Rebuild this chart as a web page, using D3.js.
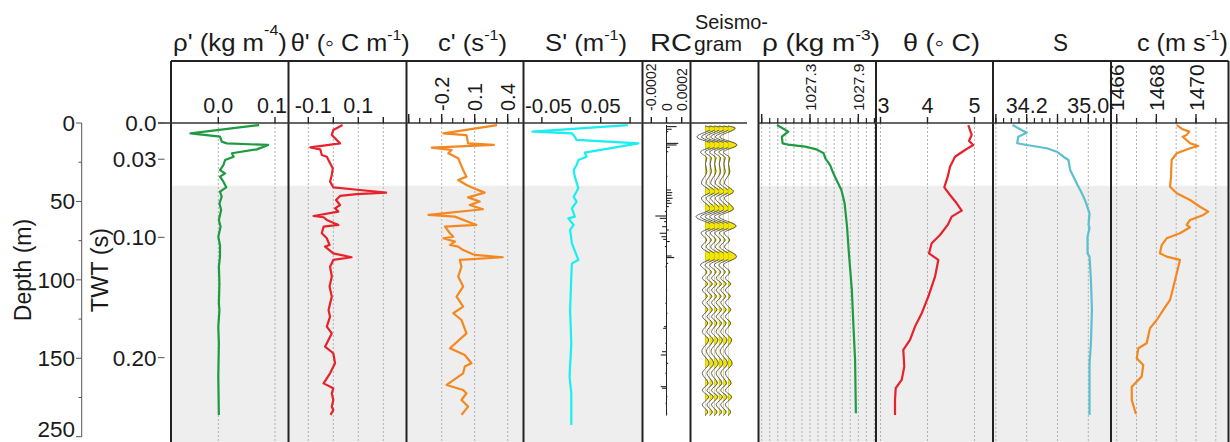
<!DOCTYPE html>
<html><head><meta charset="utf-8">
<script src="https://cdn.jsdelivr.net/npm/d3@7"></script>
<style>
body{margin:0;background:#fff}
text{font-family:"Liberation Sans",Arial,Helvetica,sans-serif;fill:#1a1a1a}
</style>
</head><body>
<svg id="chart" width="1230" height="442"></svg>
<script>
// ---------------- DATA ----------------
const depthTicks=[0,50,100,150,200];
const depthTickLabels=["0","50","100","150","250"];
const depthMinorTicks=[25,75,125,175];
const twtTicks=[0,0.03,0.10,0.20];
const twtTickLabels=["0.0","0.03","0.10","0.20"];
const twtDepths=[0,23.1,72.9,149.6];   // time-depth table (m)
const shadeTopDepth=40;

const headerMain=["ρ' (kg m","θ' (\u25E6 C m","c' (s","S' (m","RC","Seismo-","ρ (kg m","θ (\u25E6 C)","S","c (m s"];
const headerSup =["-4","-1","-1","-1","","","-3","","","-1"];
const headerTail=[")",")",")",")","","",")","","",")"];
const seismoSecondLine="gram";

const rhoPTicks=[0,0.1], rhoPLabels=["0.0","0.1"];
const thetaPTicks=[-0.1,0,0.1,0.2], thetaPLabels=["-0.1","","0.1",""];
const cPMajor=[-0.5,-0.2,0.1,0.4], cPLabels=["","-0.2","0.1","0.4"];
const cPMinor=[-0.5,-0.4,-0.3,-0.2,-0.1,0,0.1,0.2,0.3,0.4,0.5];
const cPGrid=[-0.2,0.1,0.4];
const sPTicks=[-0.05,0,0.05,0.1], sPLabels=["-0.05","","0.05",""];
const rcTicks=[-0.0002,0,0.0002], rcLabels=["-0.0002","0","0.0002"];
const rhoMajor=[1026.7,1027.3,1027.9], rhoLabels=["","1027.3","1027.9"];
const rhoMinor=[1026.7,1026.8,1026.9,1027.0,1027.1,1027.2,1027.3,1027.4,1027.5,1027.6,1027.7,1027.8,1027.9,1028.0,1028.1];
const thetaTicks=[3,4,5], thetaLabels=["3","4","5"];
const sMajor=[33.8,34.2,34.6,35.0], sLabels=["","34.2","","35.0"];
const sMinor=[33.8,33.9,34.0,34.1,34.2,34.3,34.4,34.5,34.6,34.7,34.8,34.9,35.0,35.1,35.2];
const cMajor=[1466,1468,1470], cLabels=["1466","1468","1470"];
const cMinor=[1466,1467,1468,1469,1470,1471];

// series: [depth (m), value]
const rhoPrime=[[1.3,0.072],[6.6,-0.049],[8.7,0.003],[11.9,0.006],[13.0,0.015],[14.0,0.088],[16.8,0.068],[19.3,0.024],[21.5,0.027],[23.6,0.012],[26.8,0.009],[30.0,0.003],[32.1,0.012],[34.2,0.003],[37.4,0.009],[41.0,0.014],[43.8,0.003],[47.0,0.006],[51.2,0.002],[55.5,0.005],[61.8,0.001],[66.1,0.004],[72.5,0.0],[78.0,0.003],[85.2,0.003],[91.6,0.001],[102.2,0.002],[115.0,0.001],[119.2,0.002],[129.8,0.0],[140.5,0.001],[161.7,0.0],[186.1,0.001]];
const thetaPrime=[[1.3,0.037],[4.5,0.0],[7.7,-0.006],[13.0,0.027],[15.5,-0.092],[16.8,-0.052],[20.4,-0.046],[21.5,-0.026],[25.7,-0.013],[28.9,-0.002],[33.1,-0.006],[37.4,-0.013],[41.0,0.0],[42.7,0.106],[44.4,0.211],[45.3,0.093],[46.5,0.027],[49.1,0.011],[52.3,0.027],[54.4,0.007],[56.5,0.020],[59.3,-0.079],[60.1,-0.039],[61.8,-0.026],[65.0,0.020],[66.1,-0.039],[70.3,-0.046],[73.5,-0.026],[77.8,-0.015],[78.8,-0.033],[83.1,0.0],[85.6,0.073],[87.3,0.0],[91.6,-0.013],[97.9,-0.006],[104.3,-0.015],[110.7,-0.006],[119.2,-0.019],[123.5,-0.013],[129.8,-0.026],[134.1,-0.006],[142.6,-0.033],[146.8,0.0],[153.2,0.007],[159.6,-0.013],[166.0,-0.039],[169.1,0.0],[172.3,-0.006],[176.6,0.0],[180.8,-0.006],[183.0,0.0],[186.1,-0.011]];
const cPrime=[[1.3,0.304],[6.6,-0.185],[7.7,0.025],[13.0,0.040],[14.0,0.274],[15.7,-0.290],[16.8,-0.155],[17.2,-0.110],[19.3,-0.140],[22.5,-0.050],[30.0,-0.005],[34.2,0.025],[36.3,-0.050],[39.5,0.025],[41.0,0.070],[44.4,0.190],[47.4,0.040],[50.1,0.145],[52.3,0.055],[55.0,0.175],[58.6,-0.320],[59.7,-0.080],[65.0,0.115],[66.1,-0.170],[70.3,-0.125],[72.5,-0.095],[73.5,-0.185],[75.6,-0.080],[77.8,-0.125],[78.8,-0.050],[81.0,-0.005],[84.1,0.100],[85.6,0.355],[87.3,-0.035],[91.6,-0.020],[97.9,-0.050],[104.3,-0.005],[110.7,-0.065],[117.1,-0.005],[121.3,-0.095],[125.6,-0.020],[134.1,0.025],[143.6,-0.125],[147.9,0.010],[153.2,0.070],[155.3,0.010],[159.6,-0.005],[167.0,-0.155],[170.2,-0.005],[172.3,0.025],[176.6,-0.020],[180.8,0.040],[186.1,-0.020]];
const sPrime=[[1.3,0.096],[5.5,-0.066],[6.6,0.001],[8.7,0.006],[10.8,0.009],[13.0,0.114],[15.5,0.075],[18.9,0.023],[21.5,0.026],[23.6,0.012],[26.8,0.009],[30.0,0.004],[34.2,0.006],[41.6,0.012],[47.0,0.004],[50.1,0.009],[54.4,0.001],[59.7,0.006],[60.8,-0.005],[65.0,0.004],[68.2,-0.002],[76.7,0.001],[87.3,0.012],[89.5,0.001],[97.9,0.0],[119.2,-0.002],[140.5,0.0],[161.7,-0.003],[172.3,0.0],[192.5,0.0]];
const rcSpikes=[[2.3,0.000133],[4.0,0.000067],[5.5,0.000022],[13.0,0.000155],[14.0,0.000133],[15.5,0.000044],[18.3,0.000022],[26.0,0.000009],[34.0,0.000013],[42.7,0.000058],[44.4,0.000076],[46.1,0.000067],[48.0,0.00008],[49.5,0.000044],[51.2,0.000067],[53.3,0.000031],[56.5,-0.000022],[59.3,-0.000147],[60.8,-0.000089],[62.9,-0.000031],[66.1,-0.000058],[68.2,0.000031],[70.3,-0.000089],[72.5,-0.000067],[74.2,-0.000044],[75.6,0.000044],[78.8,-0.000022],[84.8,0.000067],[85.8,0.000102],[89.5,0.000022],[91.6,-0.000013],[106.5,0.000009],[115.0,-0.000013],[121.3,0.000013],[129.8,-0.000031],[130.9,-0.000044],[140.5,-0.000013],[145.8,-0.000058],[147.9,-0.000076],[153.2,0.000022],[159.6,-0.000013],[168.1,-0.000076],[169.1,-0.000058],[174.5,0.000013],[178.7,-0.000013],[185.1,0.000009]];
const seismoTrace=[[1.9,0],[3.2,0.8],[8.9,-0.9],[14.0,1.0],[18.5,-0.5],[22.3,0.2],[26.0,0.05],[31.0,0.2],[38.2,-0.4],[43.8,0.6],[47.8,-0.4],[54.8,0.6],[59.7,-1.0],[65.7,0.9],[70.1,-0.45],[74.6,0.2],[78.9,-0.4],[85.2,0.95],[90.5,-0.5],[95.0,0.2],[99.0,-0.3],[102.5,0.3],[106.5,-0.3],[110.5,0.25],[114.5,-0.3],[119.0,0.3],[123.5,-0.3],[127.5,0.3],[133.0,-0.3],[138.3,0.4],[145.5,-0.35],[153.2,0.45],[159.6,-0.3],[165.9,0.35],[170.4,-0.3],[174.6,0.4],[179.7,-0.3],[184.2,0.3],[186.5,0]];
const seismoTraceIndex=[0,1,2,3,4,5];
const rho=[[1.3,1026.89],[5.5,1027.03],[8.7,1026.95],[13.0,1026.96],[13.8,1027.03],[15.1,1027.24],[16.8,1027.38],[19.3,1027.47],[22.5,1027.49],[26.8,1027.55],[32.1,1027.59],[37.4,1027.64],[42.7,1027.69],[51.2,1027.73],[66.1,1027.76],[81.0,1027.78],[106.5,1027.82],[129.8,1027.84],[151.1,1027.86],[185.1,1027.87]];
const theta=[[1.3,4.868],[7.6,4.940],[11.5,4.883],[14.0,4.974],[17.2,4.798],[21.5,4.585],[27.9,4.479],[34.2,4.430],[41.0,4.357],[45.9,4.479],[51.2,4.621],[55.9,4.728],[59.7,4.515],[65.0,4.430],[71.4,4.266],[76.7,4.089],[83.1,4.032],[87.3,4.230],[98.0,4.160],[110.7,4.017],[121.3,3.877],[129.8,3.734],[138.3,3.628],[144.7,3.485],[155.3,3.506],[163.8,3.451],[169.1,3.323],[176.6,3.309],[186.1,3.309]];
const salinity=[[1.3,34.017],[6.2,34.20],[8.7,34.09],[12.9,34.077],[14.0,34.20],[16.1,34.461],[18.3,34.591],[21.5,34.677],[23.6,34.742],[30.0,34.765],[34.2,34.808],[39.5,34.86],[42.7,34.895],[47.0,34.938],[51.2,34.973],[57.6,35.016],[65.0,35.003],[66.9,35.016],[72.5,34.99],[83.1,34.99],[85.2,35.016],[100.1,35.034],[119.2,35.047],[140.4,35.034],[153.2,35.016],[186.1,35.016]];
const soundSpeed=[[1.3,1469.03],[4.0,1469.33],[5.5,1469.66],[7.6,1469.53],[8.7,1469.33],[12.9,1469.70],[14.7,1470.11],[16.1,1469.70],[19.3,1469.03],[23.6,1468.77],[34.2,1468.74],[40.6,1468.69],[44.8,1469.03],[49.1,1469.70],[53.4,1470.20],[56.5,1470.62],[58.6,1470.37],[61.8,1469.70],[65.0,1469.53],[66.5,1469.70],[70.3,1469.19],[73.5,1468.52],[77.8,1468.27],[83.1,1468.18],[85.2,1468.52],[87.3,1469.19],[95.8,1469.03],[106.5,1468.82],[112.8,1468.69],[119.2,1468.35],[125.6,1468.02],[130.9,1467.68],[140.4,1467.51],[143.6,1467.09],[150.0,1467.01],[154.3,1467.34],[161.7,1467.26],[168.1,1466.76],[176.6,1466.76],[185.5,1466.97]];

// ---------------- LAYOUT ----------------
const svg=d3.select("#chart");
const AX=123, TOP=61, BOT=442;
const edges=[171,288.5,406.5,523.5,642.5,690.5,758.5,876,993,1111,1228.5];
const y=d3.scaleLinear().domain([0,200]).range([123,436.7]);
const twtY=d3.scaleLinear().domain(twtTicks).range(twtDepths.map(d=>y(d)));

const panels=[
 {dom:[0,0.1],rng:[218.3,275],major:rhoPTicks,labels:rhoPLabels,minor:[],grid:rhoPTicks,rot:false,fs:21.5,data:rhoPrime,color:"#1e9a40",shade:true,mlen:6},
 {dom:[0,0.1],rng:[333.3,358.3],major:thetaPTicks,labels:thetaPLabels,minor:[],grid:thetaPTicks,rot:false,fs:21.5,data:thetaPrime,color:"#e8222b",shade:true,mlen:6},
 {dom:[-0.2,0.4],rng:[441.7,507.7],major:cPMajor,labels:cPLabels,minor:cPMinor,grid:cPGrid,rot:true,fs:20,data:cPrime,color:"#f5871f",shade:true,mlen:9},
 {dom:[0,0.05],rng:[571.3,600.7],major:sPTicks,labels:sPLabels,minor:[],grid:[],rot:false,fs:20.5,data:sPrime,color:"#19eef0",shade:true,mlen:6},
 {dom:[0,0.0002],rng:[666.5,681.7],major:rcTicks,labels:rcLabels,minor:[],grid:[],rot:true,fs:14,data:null,shade:false,mlen:6},
 {seismo:true,shade:false},
 {dom:[1027.3,1027.9],rng:[810,858.3],major:rhoMajor,labels:rhoLabels,minor:rhoMinor,grid:rhoMinor,rot:true,fs:15.5,data:rho,color:"#1e9a40",shade:true,mlen:9},
 {dom:[3,5],rng:[880.5,974.5],major:thetaTicks,labels:thetaLabels,minor:[],grid:thetaTicks,rot:false,fs:21.5,data:theta,color:"#e8222b",shade:true,mlen:6},
 {dom:[34.2,35.0],rng:[1026.7,1088.3],major:sMajor,labels:sLabels,minor:sMinor,grid:sMajor,rot:false,fs:21.5,data:salinity,color:"#5cbfd0",shade:true,mlen:9},
 {dom:[1466,1470],rng:[1116.7,1196],major:cMajor,labels:cLabels,minor:cMinor,grid:cMinor,rot:true,fs:21,data:soundSpeed,color:"#f5871f",shade:true,mlen:9}
];

// shading
panels.forEach((p,i)=>{
  if(p.shade) svg.append("rect").attr("x",edges[i]).attr("y",y(shadeTopDepth))
    .attr("width",edges[i+1]-edges[i]).attr("height",BOT-y(shadeTopDepth)).attr("fill","#eeeeee");
});

// grids
panels.forEach((p,i)=>{
  if(p.seismo||!p.grid) return;
  const xs=d3.scaleLinear().domain(p.dom).range(p.rng);
  svg.append("g").selectAll("line").data(p.grid).join("line")
    .attr("x1",d=>xs(d)).attr("x2",d=>xs(d)).attr("y1",AX).attr("y2",BOT)
    .attr("stroke","#b0b0b0").attr("stroke-width",1).attr("stroke-dasharray","2,2");
});

// curves
panels.forEach((p,i)=>{
  if(p.seismo||!p.data) return;
  const xs=d3.scaleLinear().domain(p.dom).range(p.rng);
  svg.append("path").datum(p.data)
    .attr("d",d3.line().x(d=>xs(d[1])).y(d=>y(d[0])))
    .attr("fill","none").attr("stroke",p.color).attr("stroke-width",2.2).attr("stroke-linejoin","round");
});

// RC spikes
(function(){
  const p=panels[4];
  const xs=d3.scaleLinear().domain(p.dom).range(p.rng);
  svg.append("line").attr("x1",xs(0)).attr("x2",xs(0)).attr("y1",y(1.3)).attr("y2",y(186.5))
    .attr("stroke","#222").attr("stroke-width",1);
  svg.append("g").selectAll("line").data(rcSpikes).join("line")
    .attr("x1",xs(0)).attr("x2",d=>xs(d[1])).attr("y1",d=>y(d[0])).attr("y2",d=>y(d[0]))
    .attr("stroke","#222").attr("stroke-width",1.1);
})();

// seismogram
(function(){
  const base=d3.scaleLinear().domain([0,5]).range([705,728]);
  const amp=d3.scaleLinear().domain([-1,1]).range([-9,9]);
  const defs=svg.append("defs");
  seismoTraceIndex.forEach(k=>{
    const b=base(k);
    defs.append("clipPath").attr("id","pos"+k).append("rect")
      .attr("x",b).attr("y",AX).attr("width",30).attr("height",BOT-AX);
    svg.append("path").datum(seismoTrace)
      .attr("d",d3.area().curve(d3.curveMonotoneY).y(d=>y(d[0])).x0(b).x1(d=>b+amp(d[1])))
      .attr("fill","#f3e600").attr("stroke","#8a8200").attr("stroke-width",0.5)
      .attr("clip-path","url(#pos"+k+")");
    svg.append("path").datum(seismoTrace)
      .attr("d",d3.line().curve(d3.curveMonotoneY).y(d=>y(d[0])).x(d=>b+amp(d[1])))
      .attr("fill","none").attr("stroke","#555").attr("stroke-width",0.9);
  });
})();

// frame
svg.append("line").attr("x1",edges[0]).attr("x2",edges[10]).attr("y1",TOP).attr("y2",TOP).attr("stroke","#222").attr("stroke-width",2);
edges.forEach(e=>svg.append("line").attr("x1",e).attr("x2",e).attr("y1",TOP).attr("y2",BOT).attr("stroke","#222").attr("stroke-width",2));
// horizontal axis line
[[158,690.5],[690.5,747],[758.5,1228.5]].forEach(s=>
  svg.append("line").attr("x1",s[0]).attr("x2",s[1]).attr("y1",AX).attr("y2",AX).attr("stroke","#333").attr("stroke-width",1.6));

// panel ticks & labels
panels.forEach((p,i)=>{
  if(p.seismo) return;
  const xs=d3.scaleLinear().domain(p.dom).range(p.rng);
  const g=svg.append("g");
  g.selectAll("line.mn").data(p.minor).join("line")
    .attr("x1",d=>xs(d)).attr("x2",d=>xs(d)).attr("y1",AX).attr("y2",AX-5)
    .attr("stroke","#222").attr("stroke-width",1.2);
  g.selectAll("line.mj").data(p.major).join("line")
    .attr("x1",d=>xs(d)).attr("x2",d=>xs(d)).attr("y1",AX).attr("y2",AX-p.mlen)
    .attr("stroke","#222").attr("stroke-width",1.4);
  p.major.forEach((v,k)=>{
    const lab=p.labels[k]; if(!lab) return;
    if(p.rot){
      g.append("text").text(lab).attr("text-anchor","start").attr("dy","0.36em")
        .attr("transform",`translate(${xs(v)},111) rotate(-90)`).style("font-size",p.fs+"px");
    } else {
      const t=g.append("text").text(lab).attr("text-anchor","middle").attr("x",xs(v)+(lab[0]==="-"?5:0)).attr("y",112.5).style("font-size",p.fs+"px");
      const bb=t.node().getBBox();
      const L=edges[i]+1.5, R=edges[i+1]-1.5;
      let dx=0; if(bb.x<L) dx=L-bb.x; else if(bb.x+bb.width>R) dx=R-(bb.x+bb.width);
      t.attr("x",+t.attr("x")+dx);
    }
  });
});

// headers
const hdrCenter=[230,350.3,472.5,586,671,731.5,821,941.5,1060.5,1182.5];
const hdrWidth=[114,119,69,82,42,73,118,77,15,91];
const hdrSupDy=[-16,-11,-11,-11,0,0,-11,0,0,-11];
headerMain.forEach((m,i)=>{
  if(i===5){
    svg.append("text").text(m).attr("x",695).attr("y",28.5)
      .style("font-size","20px")
      .attr("textLength",73).attr("lengthAdjust","spacingAndGlyphs");
    return;
  }
  const t=svg.append("text").attr("text-anchor","start").style("font-size","24px");
  t.append("tspan").text(m);
  if(headerSup[i]) t.append("tspan").text(headerSup[i]).style("font-size","15px").attr("dy",hdrSupDy[i]);
  if(headerTail[i]) t.append("tspan").text(headerTail[i]).attr("dy",-hdrSupDy[i]);
  const bb=t.node().getBBox();
  const s=hdrWidth[i]/bb.width;
  t.attr("transform",`translate(${hdrCenter[i]-hdrWidth[i]/2},51) scale(${s},1)`);
});
svg.append("text").text(seismoSecondLine).attr("x",694).attr("y",50.5)
  .style("font-size","21px")
  .attr("textLength",48).attr("lengthAdjust","spacingAndGlyphs");

// depth axis
const dg=svg.append("g");
dg.append("line").attr("x1",81.7).attr("x2",81.7).attr("y1",y(0)).attr("y2",y(200)).attr("stroke","#555").attr("stroke-width",1);
dg.selectAll("line.t").data(depthTicks).join("line").attr("x1",76).attr("x2",81.7).attr("y1",d=>y(d)).attr("y2",d=>y(d)).attr("stroke","#555");
dg.selectAll("line.m").data(depthMinorTicks).join("line").attr("x1",78.5).attr("x2",81.7).attr("y1",d=>y(d)).attr("y2",d=>y(d)).attr("stroke","#555");
dg.selectAll("text").data(depthTicks).join("text").text((d,k)=>depthTickLabels[k])
  .attr("x",75).attr("y",d=>Math.min(y(d),429)).attr("dy","0.35em").attr("text-anchor","end").style("font-size","22.5px");
svg.append("text").text("Depth (m)").attr("text-anchor","middle").attr("dy","0.35em")
  .attr("transform","translate(22.5,270) rotate(-90)").style("font-size","23px");

// TWT axis
const tg=svg.append("g");
tg.append("line").attr("x1",164.5).attr("x2",164.5).attr("y1",AX).attr("y2",BOT).attr("stroke","#aaa").attr("stroke-width",2.2);
tg.selectAll("line").data(twtTicks).join("line").attr("x1",158).attr("x2",164.5).attr("y1",d=>twtY(d)).attr("y2",d=>twtY(d)).attr("stroke","#555").attr("stroke-width",1);
tg.selectAll("text").data(twtTicks).join("text").text((d,k)=>twtTickLabels[k])
  .attr("x",156.5).attr("y",d=>twtY(d)).attr("dy","0.35em").attr("text-anchor","end").style("font-size","22.5px");
svg.append("text").text("TWT (s)").attr("text-anchor","middle").attr("dy","0.35em")
  .attr("transform","translate(100,270) rotate(-90)").style("font-size","23.5px");
</script>
</body></html>
